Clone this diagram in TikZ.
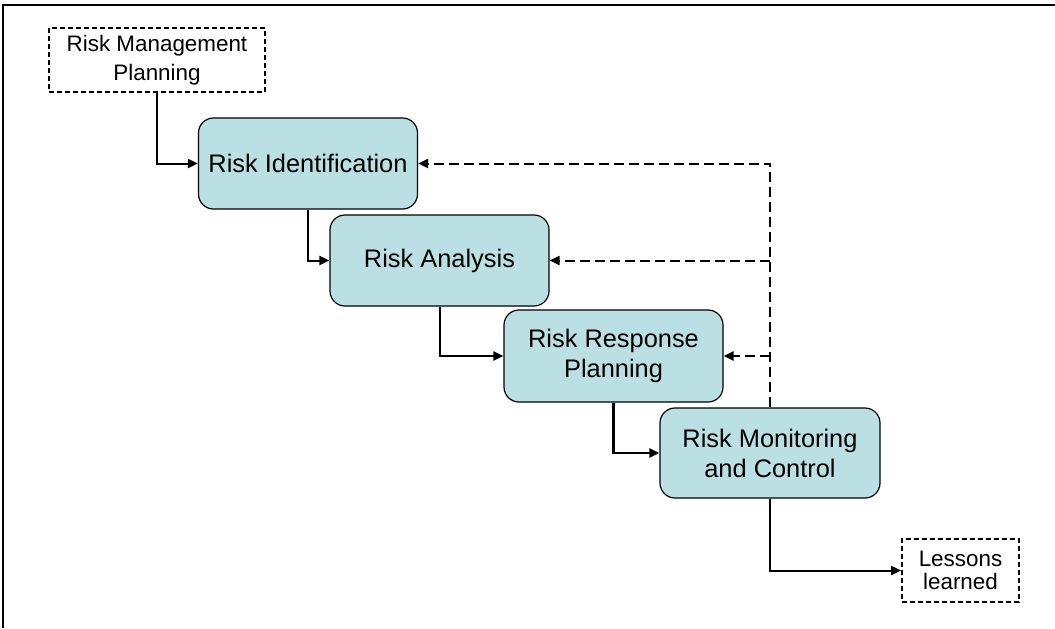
\documentclass[tikz,border=0pt]{standalone}
\usepackage{fontspec}
\setmainfont{Liberation Sans}
\usetikzlibrary{arrows.meta}
\definecolor{stepfill}{RGB}{187,224,227}
\begin{document}
\begin{tikzpicture}[x=0.5pt,y=-0.5pt,
  stepbox/.style={draw=black, line width=0.6pt, fill=stepfill, rounded corners=7.5pt,
    minimum width=109.5pt, minimum height=45.5pt, inner sep=0pt, align=center,
    font=\fontsize{12.7pt}{15pt}\selectfont},
  extbox/.style={draw=black, line width=0.9pt, dash pattern=on 2.5pt off 1.5pt,
    inner sep=0pt, align=center, font=\fontsize{11.2pt}{14.5pt}\selectfont},
  flow/.style={line width=1pt, -{Triangle[length=5pt,width=4.5pt]}},
  fback/.style={line width=1pt, dash pattern=on 5pt off 2.5pt, -{Triangle[length=5pt,width=4.5pt]}},
  frame/.style={line width=0.8pt}
]
\useasboundingbox (0,0) rectangle (1055,628);
\coordinate (ftl) at (3,5);
\coordinate (ftr) at (1055,5);
\coordinate (fbl) at (3,628);
\draw[frame] (ftr) -- (ftl) -- (fbl);

\node[extbox, minimum width=108pt, minimum height=32pt] (rmp) at (157,60) {Risk Management\\Planning};
\node[stepbox] (ri) at (308,163.5) {Risk Identification};
\node[stepbox] (ra) at (439.5,260.5) {Risk Analysis};
\node[stepbox, minimum height=46pt] (rrp) at (613.5,356) {Risk Response\\Planning};
\node[stepbox, minimum width=110pt, minimum height=45pt] (rmc) at (770,453) {Risk Monitoring\\and Control};
\node[extbox, minimum width=58.5pt, minimum height=31.5pt, font=\fontsize{11.2pt}{11.5pt}\selectfont] (ll) at (960.5,570.5) {Lessons\\learned};

\draw[flow] (rmp.south) |- (ri.west);
\draw[flow] (ri.south) |- (ra.west);
\draw[flow] (ra.south) |- (rrp.west);
\draw[flow, line width=1.3pt] (rrp.south) |- (rmc.west);
\draw[flow] (rmc.south) |- (ll.west);

\draw[fback] (rmc.north) |- (ri.east);
\draw[fback] (rmc.north |- ra.east) -- (ra.east);
\draw[fback, line width=1.4pt] (rmc.north |- rrp.east) -- (rrp.east);
\end{tikzpicture}
\end{document}
